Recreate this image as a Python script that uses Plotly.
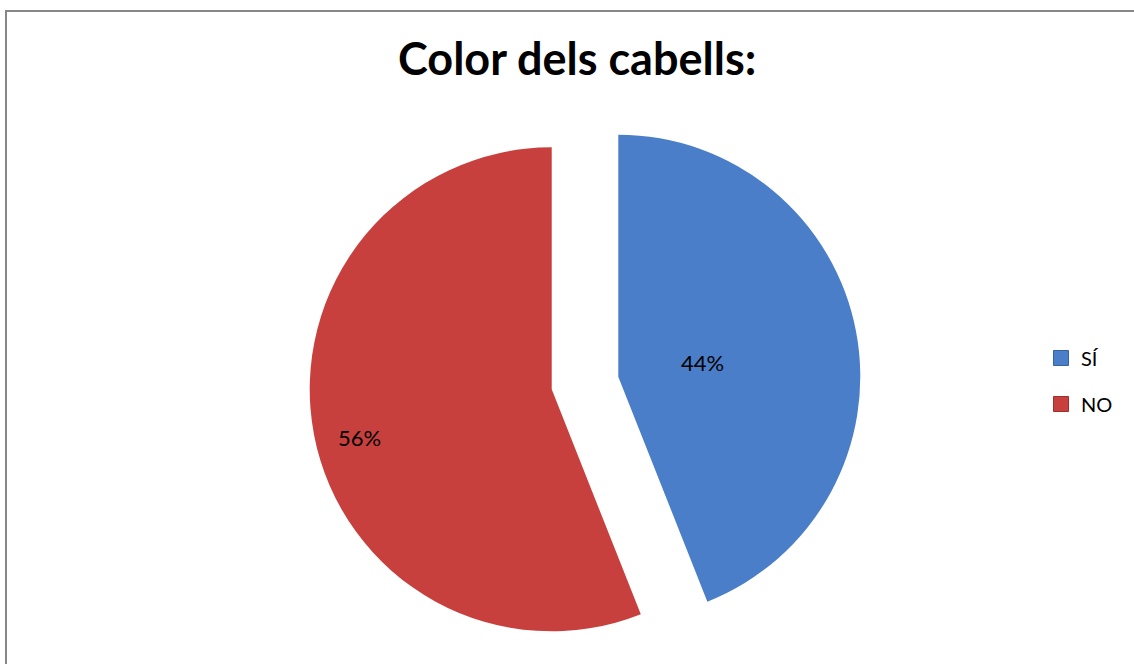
import plotly.graph_objects as go

# Hair colour survey: yes / no shares
categories = ["SÍ", "NO"]
values = [44, 56]
slice_colors = ["#4A7EC8", "#C8403E"]
edge_colors = ["#36639F", "#9E2F2D"]
title_text = "Color dels cabells:"

W, H = 1134, 664
FONT = "Lato, Carlito, Calibri, sans-serif"

total = sum(values)
pct_labels = [f"{round(100 * v / total)}%" for v in values]

fig = go.Figure()

# Exploded pie, first slice starting at 12 o'clock, going clockwise
cx, cy, r, pull = 585, 383, 242, 0.14
half = r * (1 + pull)
fig.add_trace(go.Pie(
    labels=categories,
    values=values,
    sort=False,
    direction="clockwise",
    rotation=0,
    pull=[pull, pull],
    marker=dict(colors=slice_colors, line=dict(width=0)),
    textinfo="none",
    hoverinfo="label+percent",
    showlegend=False,
    domain=dict(x=[(cx - half) / W, (cx + half) / W],
                y=[1 - (cy + half) / H, 1 - (cy - half) / H]),
))

# Legend entries with square swatches
for i, (name, col, edge) in enumerate(zip(categories, slice_colors, edge_colors)):
    fig.add_trace(go.Scatter(
        x=[None], y=[None], mode="markers", name=name,
        legendgroup=f"g{i}",
        marker=dict(symbol="square", size=15, color=col, line=dict(color=edge, width=1)),
        hoverinfo="skip",
    ))

# Percentage labels on the slices
label_pos = [(702, 362), (359, 437)]
annotations = [
    dict(text=txt, x=px / W, y=1 - py / H, xref="paper", yref="paper",
         showarrow=False, xanchor="center", yanchor="middle",
         font=dict(family=FONT, size=22, color="#000000"))
    for txt, (px, py) in zip(pct_labels, label_pos)
]
annotations.append(dict(
    text=f"<b>{title_text}</b>", x=577 / W, y=1 - 58 / H, xref="paper", yref="paper",
    showarrow=False, xanchor="center", yanchor="middle",
    font=dict(family=FONT, size=45, color="#000000"),
))

fig.update_layout(
    width=W, height=H,
    margin=dict(l=0, r=0, t=0, b=0),
    paper_bgcolor="#FFFFFF",
    plot_bgcolor="#FFFFFF",
    xaxis=dict(visible=False),
    yaxis=dict(visible=False),
    annotations=annotations,
    legend=dict(
        x=1041 / W, y=1 - 381 / H, xanchor="left", yanchor="middle",
        font=dict(family=FONT, size=20, color="#000000"),
        tracegroupgap=17, itemwidth=30,
        bgcolor="rgba(0,0,0,0)",
    ),
    shapes=[dict(
        type="rect", xref="paper", yref="paper",
        x0=6 / W, x1=1.05, y0=-0.05, y1=1 - 11 / H,
        line=dict(color="#878787", width=2), fillcolor="rgba(0,0,0,0)",
        layer="below",
    )],
)

fig.write_html("out.html")
